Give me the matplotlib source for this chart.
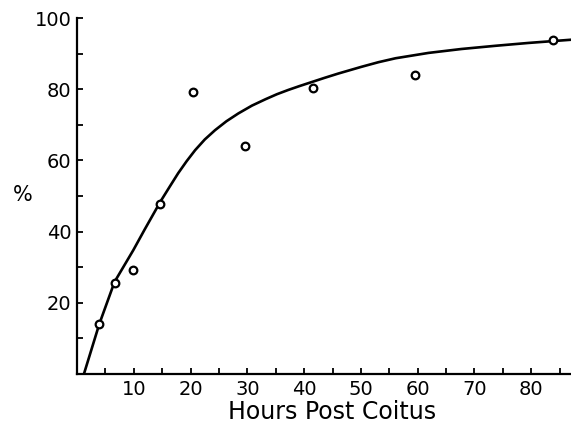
import matplotlib
matplotlib.use("Agg")
import matplotlib.pyplot as plt
from matplotlib.ticker import MultipleLocator

# Observed data points
hours = [3.9, 6.7, 9.9, 14.6, 20.5, 29.5, 41.6, 59.6, 83.8]
percent = [14.0, 25.6, 29.2, 47.8, 79.2, 64.0, 80.3, 84.0, 93.8]

# Fitted curve
curve_x = [1.2, 3.9, 6.6, 9.9, 11.9, 14.7, 16.3, 17.8, 19.3, 20.8, 22.5, 24.3,
           26.3, 28.4, 30.8, 33.2, 35.2, 37.2, 39.2, 41.3, 43.6, 46.0, 50.1,
           53.1, 56.1, 61.9, 67.7, 73.7, 79.5, 87.0]
curve_y = [0.0, 14.0, 25.9, 34.8, 40.6, 48.5, 52.6, 56.4, 59.8, 62.9, 65.9, 68.5,
           71.0, 73.2, 75.4, 77.2, 78.6, 79.8, 80.9, 82.0, 83.2, 84.4, 86.3,
           87.6, 88.7, 90.2, 91.3, 92.2, 93.0, 93.9]

xticks = [10, 20, 30, 40, 50, 60, 70, 80]
yticks = [20, 40, 60, 80, 100]

plt.rcParams['font.family'] = ['DejaVu Sans']
fig = plt.figure(figsize=(5.71, 4.29), dpi=100)
ax = fig.add_axes([0.135, 0.128, 0.865, 0.83])

ax.plot(curve_x, curve_y, color='black', lw=1.9, solid_capstyle='round',
        solid_joinstyle='round')
ax.plot(hours, percent, linestyle='none', marker='o', ms=5.5, mfc='white',
        mec='black', mew=1.6)

ax.set_xlim(0, 87)
ax.set_ylim(0, 100)
ax.set_xticks(xticks)
ax.set_yticks(yticks)
ax.xaxis.set_minor_locator(MultipleLocator(5))
ax.yaxis.set_minor_locator(MultipleLocator(10))
ax.tick_params(which='both', direction='in', length=4, width=1.3, labelsize=14,
               pad=4)
ax.spines['top'].set_visible(False)
ax.spines['right'].set_visible(False)
ax.spines['left'].set_linewidth(1.6)
ax.spines['bottom'].set_linewidth(1.6)

fig.text(332 / 571, 1 - 412 / 429, 'Hours Post Coitus', fontsize=17,
         ha='center', va='center')
fig.text(0.04, 0.545, '%', fontsize=15, ha='center', va='center')

fig.savefig('out.png', dpi=100)
